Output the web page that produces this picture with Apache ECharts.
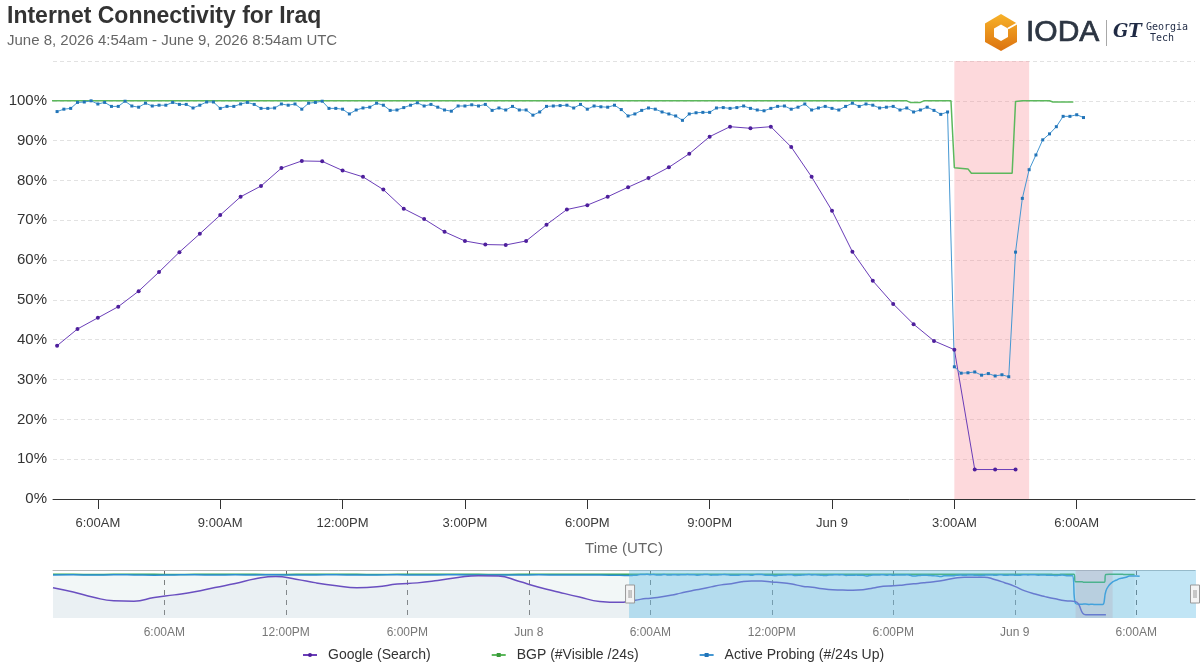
<!DOCTYPE html>
<html>
<head>
<meta charset="utf-8">
<title>Internet Connectivity for Iraq</title>
<script src="https://cdn.jsdelivr.net/npm/echarts@6/dist/echarts.min.js"></script>
<style>
html, body { margin: 0; padding: 0; background: #fff; }
#chart { width: 1200px; height: 672px; }
</style>
</head>
<body>
<div id="chart"></div>
<script>
// time window shown in the main chart, and the navigator range
var viewStart = '2026-06-08 04:54';
var viewEnd = '2026-06-09 08:54';
var navStart = '2026-06-07 00:30';
var outageStart = '2026-06-09 03:00';
var outageEnd = '2026-06-09 04:50';

var mainTicks = ['2026-06-08 06:00', '2026-06-08 09:00', '2026-06-08 12:00', '2026-06-08 15:00',
    '2026-06-08 18:00', '2026-06-08 21:00', '2026-06-09 00:00', '2026-06-09 03:00', '2026-06-09 06:00'];
var navTicks = ['2026-06-07 06:00', '2026-06-07 12:00', '2026-06-07 18:00', '2026-06-08 00:00',
    '2026-06-08 06:00', '2026-06-08 12:00', '2026-06-08 18:00', '2026-06-09 00:00', '2026-06-09 06:00'];
var yTicks = [0, 10, 20, 30, 40, 50, 60, 70, 80, 90, 100];

// Google (Search), every 30 min from 5:00am Jun 8
var googleStart = '2026-06-08 05:00';
var googleStep = 30;
var googleValues = [38.5, 42.7, 45.5, 48.3, 52.2, 57.0, 62.0, 66.6, 71.3, 75.9,
    78.6, 83.1, 84.9, 84.8, 82.5, 80.9, 77.7, 72.9, 70.3, 67.1,
    64.8, 63.9, 63.8, 64.8, 68.9, 72.7, 73.8, 75.9, 78.3, 80.6,
    83.3, 86.7, 91.0, 93.5, 93.1, 93.5, 88.4, 80.9, 72.4, 62.1,
    54.8, 49.0, 43.9, 39.7, 37.5, 7.4, 7.4, 7.4];

// Active Probing, every 10 min from 5:00am Jun 8
var probeStart = '2026-06-08 05:00';
var probeStep = 10;
var probeValues = [97.3, 97.9, 98.1, 99.6, 99.7, 100.0, 99.2, 99.6, 98.6, 98.6,
    99.9, 98.7, 98.4, 99.4, 98.7, 98.9, 98.9, 99.6, 99.1, 99.1,
    98.2, 98.9, 99.7, 99.7, 98.1, 98.6, 98.6, 99.2, 99.6, 99.1,
    98.1, 98.1, 98.2, 99.2, 98.9, 99.2, 97.9, 99.4, 99.6, 99.9,
    98.1, 98.1, 97.9, 96.7, 97.7, 98.2, 98.4, 99.4, 98.9, 97.6,
    97.7, 98.3, 98.9, 99.5, 98.7, 99.1, 98.4, 97.7, 97.4, 98.7,
    98.7, 99.0, 98.7, 99.1, 97.6, 98.2, 97.7, 98.6, 97.7, 97.7,
    96.4, 97.2, 98.6, 98.7, 98.8, 98.9, 98.2, 99.1, 97.9, 98.7,
    98.5, 98.4, 98.9, 97.8, 96.2, 96.7, 97.6, 98.2, 97.9, 97.2,
    96.7, 96.2, 95.1, 96.7, 97.0, 97.1, 97.1, 98.2, 98.3, 98.1,
    98.3, 98.7, 98.1, 97.7, 97.5, 98.1, 98.6, 98.7, 97.9, 98.4,
    99.2, 97.7, 98.2, 98.6, 98.1, 97.7, 98.6, 99.4, 98.6, 99.2,
    98.9, 98.2, 98.4, 98.6, 97.7, 98.2, 97.2, 97.7, 98.4, 97.6,
    96.6, 97.2, 33.2, 31.6, 31.7, 31.9, 31.1, 31.5, 30.9, 31.2,
    30.7, 62.0, 75.5, 82.7, 86.4, 90.2, 91.7, 93.5, 96.1, 96.1,
    96.5, 95.8];

// BGP (#Visible /24s)
var bgpTimes = ['2026-06-08 04:50', '2026-06-09 01:50', '2026-06-09 01:55', '2026-06-09 02:10',
    '2026-06-09 02:15', '2026-06-09 02:55', '2026-06-09 03:00', '2026-06-09 03:20',
    '2026-06-09 03:25', '2026-06-09 04:25', '2026-06-09 04:30', '2026-06-09 04:40',
    '2026-06-09 05:20', '2026-06-09 05:25', '2026-06-09 05:55'];
var bgpValues = [100, 100, 99.6, 99.6, 100, 100, 83.2, 82.9, 81.8, 81.8, 99.8, 100, 100, 99.7, 99.7];

// navigator only: hourly from 0:30am Jun 7 up to the main window
var prevStart = '2026-06-07 00:30';
var prevStep = 60;
var prevGoogle = [69.4, 59.5, 47.5, 39.5, 38.5, 47.0, 53.0, 60.0, 70.0, 79.0,
    90.0, 95.3, 89.0, 80.5, 74.0, 69.5, 71.5, 77.8, 80.5, 86.0,
    92.8, 97.0, 96.3, 84.0, 70.5, 59.0, 48.0, 38.0, 36.0];
var prevProbe = [98.6, 98.9, 98.4, 99.0, 98.7, 98.2, 98.8, 99.1, 98.5, 98.9,
    98.6, 99.2, 98.4, 98.7, 98.9, 98.3, 98.8, 99.0, 98.5, 98.7,
    98.9, 98.4, 98.8, 98.6, 99.0, 98.5, 98.8, 98.3, 97.8];
var prevBgp = [100, 100, 99.6, 100, 100, 100, 99.7, 100, 100, 100,
    100, 99.6, 100, 100, 100, 100, 99.7, 100, 100, 100,
    100, 100, 99.6, 100, 100, 100, 100, 100, 100];

var FONT = '"Liberation Sans", Arial, Helvetica, sans-serif';

function ts(s) {
    var p = s.split(/[- :]/);
    return new Date(+p[0], p[1] - 1, +p[2], +p[3], +p[4]).getTime();
}
function stepped(start, step, values) {
    var t0 = ts(start);
    return values.map(function (v, i) { return [t0 + i * step * 60000, v]; });
}
function paired(times, values) {
    return times.map(function (t, i) { return [ts(t), values[i]]; });
}
function timeLabel(v) {
    var d = new Date(v);
    var h = d.getHours();
    var m = d.getMinutes();
    if (h === 0 && m === 0) return 'Jun ' + d.getDate();
    return (h % 12 || 12) + ':' + (m < 10 ? '0' : '') + m + (h < 12 ? 'AM' : 'PM');
}

var googleData = stepped(googleStart, googleStep, googleValues);
var probeData = stepped(probeStart, probeStep, probeValues);
var bgpData = paired(bgpTimes, bgpValues);
var navGoogle = stepped(prevStart, prevStep, prevGoogle).concat(googleData);
var navProbe = stepped(prevStart, prevStep, prevProbe).concat(probeData);
var navBgp = stepped(prevStart, prevStep, prevBgp).concat(bgpData);

var mainTickValues = mainTicks.map(ts);
var navTickValues = navTicks.map(ts);

var chart = echarts.init(document.getElementById('chart'), null, { renderer: 'canvas' });

var option = {
    animation: false,
    backgroundColor: '#fff',
    textStyle: { fontFamily: FONT },
    title: {
        text: 'Internet Connectivity for Iraq',
        subtext: 'June 8, 2026 4:54am - June 9, 2026 8:54am UTC',
        left: 7,
        top: 5,
        padding: 0,
        itemGap: 5,
        textStyle: { fontSize: 23, fontWeight: 'bold', color: '#333', fontFamily: FONT },
        subtextStyle: { fontSize: 15, color: '#666', fontFamily: FONT }
    },
    legend: {
        bottom: 5,
        left: 297,
        itemGap: 60,
        itemWidth: 14,
        itemHeight: 5,
        textStyle: { fontSize: 14, color: '#333', fontFamily: FONT, padding: [0, 0, 0, 6] },
        data: ['Google (Search)', 'BGP (#Visible /24s)', 'Active Probing (#/24s Up)']
    },
    grid: [
        { left: 53, right: 5, top: 61, height: 438 },
        { left: 53, right: 5, top: 570, height: 48 }
    ],
    xAxis: [
        {
            type: 'value',
            gridIndex: 0,
            min: ts(navStart),
            max: ts(viewEnd),
            name: 'Time (UTC)',
            nameLocation: 'middle',
            nameGap: 42,
            nameTextStyle: { fontSize: 15, color: '#666', fontFamily: FONT },
            axisLine: { lineStyle: { color: '#333', width: 1 } },
            axisTick: { show: true, length: 10, lineStyle: { color: '#333' }, customValues: mainTickValues },
            axisLabel: { customValues: mainTickValues, formatter: timeLabel, fontSize: 13, color: '#3a3a3a', margin: 18, fontFamily: FONT },
            splitLine: { show: false }
        },
        {
            type: 'value',
            gridIndex: 1,
            min: ts(navStart),
            max: ts(viewEnd),
            axisLine: { show: false },
            axisTick: { show: false, customValues: navTickValues },
            axisLabel: { customValues: navTickValues, formatter: timeLabel, fontSize: 12, color: '#777', margin: 9, fontFamily: FONT },
            splitLine: { show: true, lineStyle: { color: '#666', type: [5, 5], width: 1 } }
        },
        {
            type: 'value',
            gridIndex: 1,
            position: 'top',
            min: ts(navStart),
            max: ts(viewEnd),
            axisLine: { show: true, lineStyle: { color: '#b8b8b8', width: 1 } },
            axisTick: { show: false },
            axisLabel: { show: false },
            splitLine: { show: false }
        }
    ],
    yAxis: [
        {
            type: 'value',
            gridIndex: 0,
            min: 0,
            max: 110,
            interval: 10,
            axisLine: { show: false },
            axisTick: { show: false },
            axisLabel: {
                fontSize: 15, color: '#333', margin: 6, fontFamily: FONT,
                formatter: function (v) { return yTicks.indexOf(v) >= 0 ? v + '%' : ''; }
            },
            splitLine: { lineStyle: { color: '#e2e2e2', type: [4, 3] } }
        },
        { type: 'value', gridIndex: 1, min: 0, max: 110, show: false }
    ],
    dataZoom: [{
        type: 'slider',
        xAxisIndex: 0,
        filterMode: 'none',
        startValue: ts(viewStart),
        endValue: ts(viewEnd),
        left: 53,
        right: 5,
        top: 570,
        height: 48,
        showDataShadow: false,
        showDetail: false,
        brushSelect: false,
        moveHandleSize: 0,
        backgroundColor: 'rgba(0,0,0,0)',
        borderColor: 'rgba(0,0,0,0)',
        fillerColor: 'rgba(100,190,230,0.4)',
        handleIcon: 'path://M0,0H9V18H0Z M3.5,5V13 M5.5,5V13',
        handleSize: 18,
        handleStyle: { color: '#f4f4f4', borderColor: '#999', borderWidth: 1 },
        dataBackground: { lineStyle: { opacity: 0 }, areaStyle: { opacity: 0 } },
        selectedDataBackground: { lineStyle: { opacity: 0 }, areaStyle: { opacity: 0 } }
    }],
    series: [
        {
            name: 'Google (Search)',
            type: 'line',
            xAxisIndex: 0,
            yAxisIndex: 0,
            data: googleData,
            symbol: 'circle',
            symbolSize: 4,
            lineStyle: { color: '#6a3db8', width: 1 },
            itemStyle: { color: '#4e1f9c' },
            z: 3,
            markArea: {
                silent: true,
                itemStyle: { color: 'rgba(250,128,140,0.3)' },
                data: [[{ xAxis: ts(outageStart) }, { xAxis: ts(outageEnd) }]]
            }
        },
        {
            name: 'BGP (#Visible /24s)',
            type: 'line',
            xAxisIndex: 0,
            yAxisIndex: 0,
            data: bgpData,
            symbol: 'rect',
            symbolSize: 4,
            showSymbol: false,
            lineStyle: { color: '#5cb85c', width: 1.5 },
            itemStyle: { color: '#3a9a3a' },
            z: 3
        },
        {
            name: 'Active Probing (#/24s Up)',
            type: 'line',
            xAxisIndex: 0,
            yAxisIndex: 0,
            data: probeData,
            symbol: 'rect',
            symbolSize: 3,
            lineStyle: { color: '#4597d2', width: 1 },
            itemStyle: { color: '#2274b8' },
            z: 3
        },
        {
            type: 'line',
            xAxisIndex: 1,
            yAxisIndex: 1,
            data: navBgp,
            smooth: true,
            symbol: 'none',
            silent: true,
            lineStyle: { color: '#3bab54', width: 1.5 },
            areaStyle: { color: 'rgba(200,220,220,0.33)', origin: 'start' },
            markArea: {
                silent: true,
                itemStyle: { color: 'rgba(250,150,150,0.35)' },
                data: [[{ xAxis: ts(outageStart) }, { xAxis: ts(outageEnd) }]]
            }
        },
        {
            type: 'line',
            xAxisIndex: 1,
            yAxisIndex: 1,
            data: navProbe,
            smooth: true,
            symbol: 'none',
            silent: true,
            lineStyle: { color: '#2d8fd5', width: 1.5 }
        },
        {
            type: 'line',
            xAxisIndex: 1,
            yAxisIndex: 1,
            data: navGoogle,
            smooth: true,
            symbol: 'none',
            silent: true,
            lineStyle: { color: '#6a4fc0', width: 1.5 },
            areaStyle: { color: 'rgba(180,190,215,0.18)', origin: 'start' }
        }
    ],
    graphic: [
        {
            type: 'polygon',
            shape: { points: [[1001, 14], [1017, 23.5], [1017, 42], [1001, 51], [985, 42], [985, 23.5]] },
            style: {
                fill: new echarts.graphic.LinearGradient(0, 0, 0, 1, [
                    { offset: 0, color: '#f7b229' },
                    { offset: 1, color: '#dc720f' }
                ])
            }
        },
        {
            type: 'polygon',
            shape: { points: [[1001, 24.5], [1008, 28.5], [1008, 37], [1001, 41], [994, 37], [994, 28.5]] },
            style: { fill: '#fff' }
        },
        {
            type: 'line',
            shape: { x1: 1008, y1: 28.5, x2: 1017, y2: 23.5 },
            style: { stroke: '#fff', lineWidth: 2 }
        },
        {
            type: 'text',
            x: 1026,
            y: 18,
            style: { text: 'IODA', fill: '#2c3542', stroke: '#2c3542', lineWidth: 0.7, fontSize: 30, fontFamily: FONT, fontWeight: 'normal' }
        },
        {
            type: 'rect',
            shape: { x: 1106, y: 20, width: 1, height: 26 },
            style: { fill: '#a8a8a8' }
        },
        {
            type: 'text',
            x: 1113,
            y: 23,
            style: { text: 'GT', fill: '#1f2a44', fontSize: 18, fontFamily: '"DejaVu Serif", serif', fontWeight: 'bold', fontStyle: 'italic' }
        },
        {
            type: 'text',
            x: 1146,
            y: 22,
            style: { text: 'Georgia', fill: '#1f2a44', fontSize: 10, fontFamily: '"DejaVu Sans Mono", monospace' }
        },
        {
            type: 'text',
            x: 1150,
            y: 33,
            style: { text: 'Tech', fill: '#1f2a44', fontSize: 10, fontFamily: '"DejaVu Sans Mono", monospace' }
        }
    ]
};

chart.setOption(option);
</script>
</body>
</html>
